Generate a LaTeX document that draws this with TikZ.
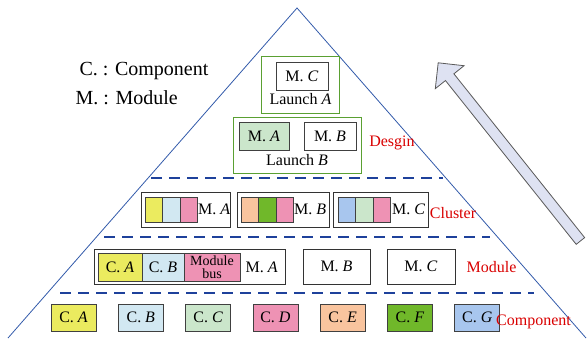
\documentclass[tikz,border=0pt]{standalone}
\usepackage{fontspec}
\setmainfont{Liberation Serif}
\usepackage{tikz}
\usetikzlibrary{positioning,fit,shapes.arrows}
\definecolor{compA}{RGB}{235,235,95}
\definecolor{compB}{RGB}{210,232,242}
\definecolor{compC}{RGB}{203,230,203}
\definecolor{compD}{RGB}{238,146,180}
\definecolor{compE}{RGB}{249,196,158}
\definecolor{compF}{RGB}{112,184,42}
\definecolor{compG}{RGB}{168,198,238}
\definecolor{launchgreen}{RGB}{90,160,50}
\definecolor{pyramid}{RGB}{50,90,170}
\definecolor{sepblue}{RGB}{30,65,155}
\definecolor{arrowfill}{RGB}{222,226,242}

\begin{document}
\begin{tikzpicture}[x=1pt,y=-1pt,
                  font=\fontsize{16}{16}\selectfont,
                  cbox/.style={draw=black!75,line width=0.8pt,minimum width=45pt,minimum height=27pt,inner sep=0pt},
                  mbox/.style={draw=black!75,line width=0.9pt,minimum width=52pt,minimum height=28pt,inner sep=0pt},
                  cell/.style={draw=black!75,line width=0.8pt,minimum width=17.5pt,minimum height=25pt,inner sep=0pt,outer sep=0pt},
                  outer/.style={draw=black!80,line width=0.9pt,minimum height=35pt,inner sep=0pt},
                  launch/.style={draw=launchgreen,line width=1.1pt,inner xsep=5pt,inner ysep=5pt},
                  tag/.style={text=red!85!black},
                  sep/.style={draw=sepblue,line width=2.6pt,dash pattern=on 11pt off 7pt}
                ]
                \useasboundingbox (0,0) rectangle (587,338);
                % pyramid and layer borders
                \coordinate (top) at (297,8);
                \coordinate (bl) at (8,338);
                \coordinate (br) at (586,338);
                \draw[pyramid,line width=0.8pt] (bl) -- (top) -- (br);
                \draw[sep] (151,178) -- (443,178);
                \draw[sep] (104,237) -- (490,237);
                \draw[sep] (60,293) -- (534,293);
                
                % legend
                \node[anchor=west,font=\fontsize{20}{20}\selectfont] (leg1) at (76,71) {C. : Component};
                \node[anchor=west,font=\fontsize{20}{20}\selectfont] (leg2) at (72,98) {M. : Module};
                
                % design
                \node[mbox] (dC) at (302,76) {M. \textit{C}};
                \node (lA) at (300.5,99) {Launch \textit{A}};
                \node[launch,fit=(dC)(lA)] (launchA) {};
                \node[mbox,fill=compC,minimum width=50pt] (dA) at (264,136) {M. \textit{A}};
                \node[mbox] (dB) at (330,136) {M. \textit{B}};
                \node (lB) at (297,160) {Launch \textit{B}};
                \node[launch,inner ysep=4pt,fit=(dA)(dB)(lB)] (launchB) {};
                \node[tag] (tDesign) at (392,143) {Desgin};
                
                % cluster
                \node[outer,minimum width=89pt] (clA) at (185.5,209.5) {};
                \node[cell,fill=compA,anchor=west] (a1) at (145,209.5) {};
                \node[cell,fill=compB,right=0pt of a1] (a2) {};
                \node[cell,fill=compD,right=0pt of a2] (a3) {};
                \node[right=0pt of a3,inner sep=0.5pt] (aT) {M. \textit{A}};
                \node[outer,minimum width=92pt] (clB) at (283,209.5) {};
                \node[cell,fill=compE,anchor=west] (b1) at (241,209.5) {};
                \node[cell,fill=compF,right=0pt of b1] (b2) {};
                \node[cell,fill=compD,right=0pt of b2] (b3) {};
                \node[right=0pt of b3,inner sep=0.5pt] (bT) {M. \textit{B}};
                \node[outer,minimum width=95pt] (clC) at (380.5,209.5) {};
                \node[cell,fill=compG,anchor=west] (c1) at (338,209.5) {};
                \node[cell,fill=compC,right=0pt of c1] (c2) {};
                \node[cell,fill=compD,right=0pt of c2] (c3) {};
                \node[right=1pt of c3,inner sep=0.5pt] (cT) {M. \textit{C}};
                \node[tag] (tCluster) at (453,213) {Cluster};
                
                % module
                \node[cell,fill=compA,minimum width=44pt,minimum height=28pt,anchor=west] (m1) at (98,267) {C. \textit{A}};
                \node[cell,fill=compB,minimum width=42pt,minimum height=28pt,right=0pt of m1] (m2) {C. \textit{B}};
                \node[cell,fill=compD,minimum width=56pt,minimum height=28pt,align=center,
                      font=\fontsize{14}{12.5}\selectfont,right=0pt of m2] (m3) {Module\\bus};
                \node[right=2pt of m3] (mT) {M. \textit{A}};
                \node[outer,inner xsep=4pt,inner ysep=3.5pt,minimum height=0pt,fit=(m1)(m3)(mT)] (modA) {};
                \node[outer,minimum width=67pt] (modB) at (336.5,266.5) {M. \textit{B}};
                \node[outer,minimum width=68pt] (modC) at (421,266.5) {M. \textit{C}};
                \node[tag] (tModule) at (491.5,267) {Module};
                
                % component
                \node[cbox,fill=compA] (cA) at (73.5,317.5) {C. \textit{A}};
                \node[cbox,fill=compB,right=21.5pt of cA] (cB) {C. \textit{B}};
                \node[cbox,fill=compC,right=21.5pt of cB] (cC) {C. \textit{C}};
                \node[cbox,fill=compD,right=21.5pt of cC] (cD) {C. \textit{D}};
                \node[cbox,fill=compE,right=21.5pt of cD] (cE) {C. \textit{E}};
                \node[cbox,fill=compF,right=21.5pt of cE] (cF) {C. \textit{F}};
                \node[cbox,fill=compG,right=21.5pt of cF] (cG) {C. \textit{G}};
                \node[tag] (tComp) at (533.5,322) {Component};
                
                % upward arrow
                \node[single arrow,draw=black!65,fill=arrowfill,line width=0.8pt,inner sep=5pt,
                      minimum height=228pt,single arrow head extend=13pt,rotate=128.6] (up) at (511,154) {};
                \end{tikzpicture}
\end{document}
